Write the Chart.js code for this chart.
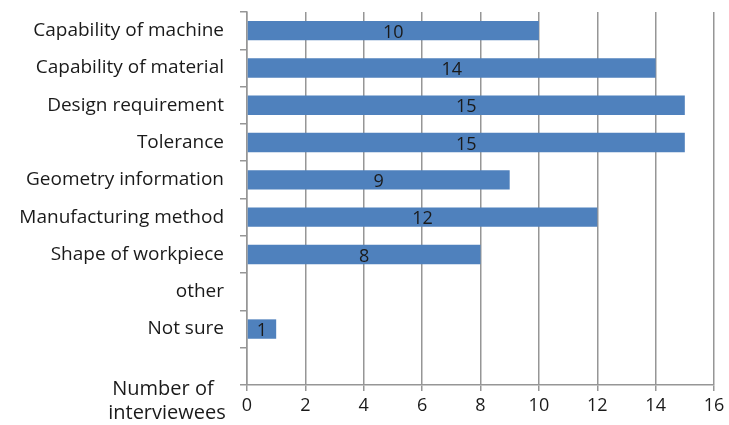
<!DOCTYPE html>
<html>
<head>
<meta charset="utf-8">
<script src="https://cdn.jsdelivr.net/npm/chart.js@4"></script>
<style>
  html, body { margin: 0; padding: 0; background: #fff; }
  #wrap { width: 729px; height: 425px; }
</style>
</head>
<body>
<div id="wrap"><canvas id="chart" width="729" height="425"></canvas></div>
<script>
// categories top to bottom, last slot is empty in the original
const categories = [
  "Capability of machine",
  "Capability of material",
  "Design requirement",
  "Tolerance",
  "Geometry information",
  "Manufacturing method",
  "Shape of workpiece",
  "other",
  "Not sure",
  ""
];
const interviewees = [10, 14, 15, 15, 9, 12, 8, null, 1, null];
const xTicks = [0, 2, 4, 6, 8, 10, 12, 14, 16];
const axisTitle = ["Number of", "interviewees"];

const FONT = "'Open Sans', sans-serif";
const LINE = "#969696";

// value labels centred in each bar
const barLabels = {
  id: "barLabels",
  afterDatasetsDraw(chart) {
    const ctx = chart.ctx;
    const meta = chart.getDatasetMeta(0);
    ctx.save();
    ctx.font = "18px " + FONT;
    ctx.fillStyle = "#1a1a1a";
    ctx.textAlign = "center";
    ctx.textBaseline = "middle";
    meta.data.forEach((bar, i) => {
      const v = interviewees[i];
      if (v == null) return;
      const x = (bar.x + bar.base) / 2;
      ctx.fillText(String(v), x, bar.y + 2);
    });
    ctx.restore();
  }
};

// axis title sits left of the 0 label
const sideTitle = {
  id: "sideTitle",
  afterDraw(chart) {
    const ctx = chart.ctx;
    const area = chart.chartArea;
    ctx.save();
    ctx.font = "20px " + FONT;
    ctx.fillStyle = "#1a1a1a";
    ctx.textAlign = "center";
    ctx.textBaseline = "middle";
    ctx.fillText(axisTitle[0], area.left - 84, area.bottom + 4);
    ctx.fillText(axisTitle[1], area.left - 80, area.bottom + 28);
    ctx.restore();
  }
};

new Chart(document.getElementById("chart"), {
  type: "bar",
  data: {
    labels: categories,
    datasets: [{
      data: interviewees,
      backgroundColor: "#4F81BD",
      borderWidth: 0,
      categoryPercentage: 1,
      barPercentage: 0.52
    }]
  },
  options: {
    indexAxis: "y",
    responsive: false,
    animation: false,
    layout: { padding: { top: 12, right: 15, left: 0, bottom: 0 } },
    plugins: {
      legend: { display: false },
      tooltip: { enabled: false }
    },
    scales: {
      x: {
        min: 0,
        max: 16,
        afterBuildTicks(scale) {
          scale.ticks = xTicks.map(v => ({ value: v }));
        },
        grid: {
          color: LINE,
          lineWidth: 1.5,
          tickLength: 6,
          drawTicks: true
        },
        border: { color: LINE, width: 1.5 },
        ticks: {
          padding: 4,
          color: "#1a1a1a",
          font: { family: FONT, size: 18 }
        },
        afterFit(scale) { scale.height = 40; }
      },
      y: {
        offset: true,
        grid: {
          offset: true,
          drawOnChartArea: false,
          drawTicks: true,
          tickLength: 7,
          lineWidth: 1.5,
          color: LINE
        },
        border: { color: LINE, width: 1.5 },
        ticks: {
          padding: 16,
          color: "#1a1a1a",
          autoSkip: false,
          font: { family: FONT, size: 19 }
        },
        afterFit(scale) {
          scale.width = 247;
          scale.paddingTop = 0;
          scale.paddingBottom = 0;
        }
      }
    }
  },
  plugins: [barLabels, sideTitle]
});
</script>
</body>
</html>
